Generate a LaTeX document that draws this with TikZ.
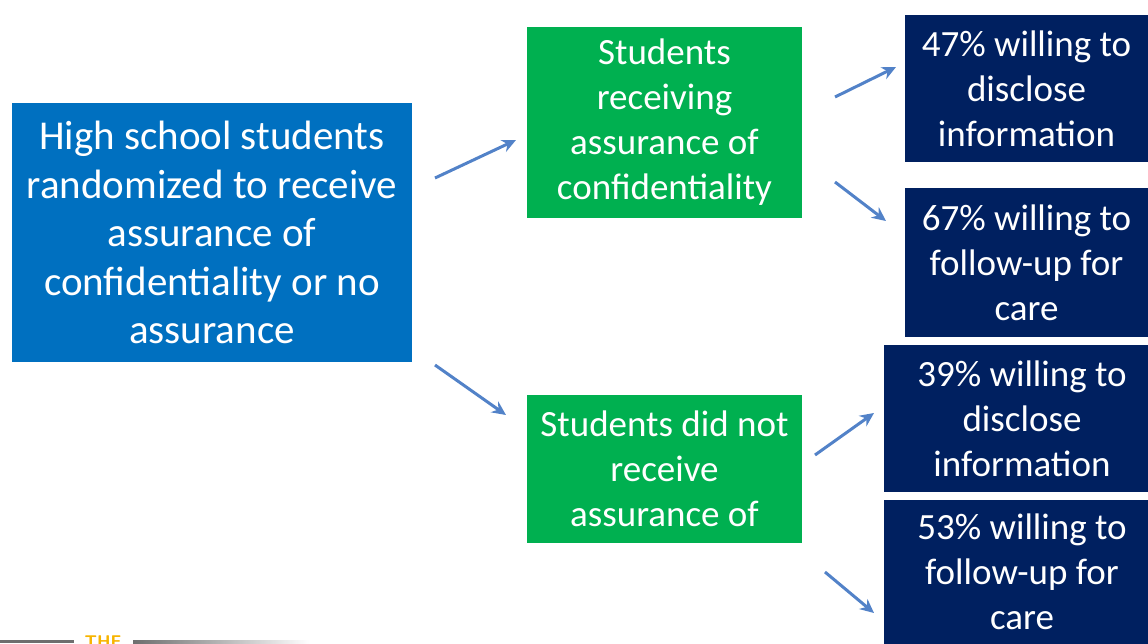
\documentclass[tikz,border=0pt]{standalone}
\usepackage{fontspec}
\setmainfont{Carlito}
\usetikzlibrary{arrows.meta}
\definecolor{studyblue}{HTML}{0070C0}
\definecolor{groupgreen}{HTML}{00B050}
\definecolor{resultnavy}{HTML}{002060}
\definecolor{flowblue}{HTML}{5282C8}
\definecolor{logogray}{HTML}{6E6E6E}
\definecolor{logoorange}{HTML}{F7B400}
\tikzset {
  block/.style = {
    draw = none,
    align = center,
    text = white,
    inner sep = 0
  },
  % randomized study population
  study/.style = {
    block,
    fill = studyblue,
    minimum width = 400pt,
    minimum height = 259pt,
    font = \fontsize{41}{48.5}\selectfont
  },
  % the two arms
  group/.style = {
    block,
    fill = groupgreen,
    minimum width = 275pt,
    font = \fontsize{37}{45}\selectfont
  },
  % outcomes per arm
  result/.style = {
    block,
    fill = resultnavy,
    font = \fontsize{37}{45}\selectfont
  },
  flow/.style = {
    draw = flowblue,
    line width = 3pt,
    -{Stealth[length=14pt,width=13pt]}
  }
}

\begin{document}
\begin{tikzpicture}[x=1pt, y=-1pt]
    \useasboundingbox (0,0) rectangle (1148,643);

    \node[study] (study) at (212,232.5)
      {High school students\\randomized to receive\\assurance of\\confidentiality or no\\assurance};
    \node[group, minimum height=191pt] (given) at (664.5,122.5)
      {Students\\receiving\\assurance of\\confidentiality};
    \node[group, minimum height=148pt] (withheld) at (664.5,469)
      {Students did not\\receive\\assurance of};

    \node[result, minimum width=243pt, minimum height=147pt] (disclose-given) at (1026.5,88.5)
      {47\% willing to\\disclose\\information};
    \node[result, minimum width=243pt, minimum height=149pt] (follow-given) at (1026.5,262.5)
      {67\% willing to\\follow-up for\\care};
    \node[result, minimum width=276pt, minimum height=147pt] (disclose-withheld) at (1022,418.5)
      {39\% willing to\\disclose\\information};
    \node[result, minimum width=276pt, minimum height=144pt] (follow-withheld) at (1022,572)
      {53\% willing to\\follow-up for\\care};

    % arrow ends sit in the gaps between boxes
    \coordinate (study-up) at (435,178);
    \coordinate (given-in) at (516,140);
    \coordinate (study-down) at (435,365);
    \coordinate (withheld-in) at (506,415);
    \coordinate (given-up) at (835,97);
    \coordinate (disclose-given-in) at (896,67);
    \coordinate (given-down) at (835,182);
    \coordinate (follow-given-in) at (886,221);
    \coordinate (withheld-up) at (815,455);
    \coordinate (disclose-withheld-in) at (874,413);
    \coordinate (withheld-down) at (825,572);
    \coordinate (follow-withheld-in) at (874,613);

    \draw[flow] (study-up) -- (given-in);
    \draw[flow] (study-down) -- (withheld-in);
    \draw[flow] (given-up) -- (disclose-given-in);
    \draw[flow] (given-down) -- (follow-given-in);
    \draw[flow] (withheld-up) -- (disclose-withheld-in);
    \draw[flow] (withheld-down) -- (follow-withheld-in);

    % logo strip, cut by the lower edge
    \fill[logogray] (0,640) rectangle (74,643);
    \shade[left color=logogray, right color=white] (133,640) rectangle (310,643);
    \node[text=logoorange, font=\sffamily\bfseries\fontsize{17}{17}\selectfont, anchor=base, inner sep=0]
      (logo) at (103,647) {THE};
\end{tikzpicture}
\end{document}
